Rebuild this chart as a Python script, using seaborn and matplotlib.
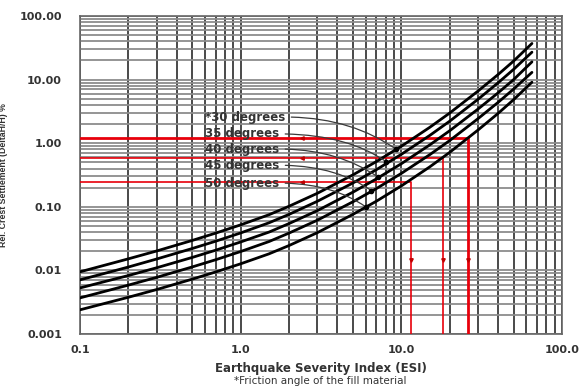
import numpy as np
import pandas as pd
import matplotlib
matplotlib.use("Agg")
import matplotlib.pyplot as plt
from matplotlib.ticker import LogLocator, FixedLocator, NullFormatter
import seaborn as sns

# ---- data ----
esi = [0.1, 0.15, 0.2, 0.3, 0.5, 0.7, 1.0, 1.5, 2.0, 3.0, 5.0, 7.0, 10.0, 15.0, 20.0, 30.0, 40.0, 50.0, 65.0]
s30 = [0.0095, 0.0125, 0.0152, 0.0202, 0.0296, 0.0386, 0.052, 0.075, 0.102, 0.163, 0.318, 0.515, 0.895, 1.77, 2.98, 6.6, 12.0, 19.6, 37.0]
s35 = [0.0071, 0.0093, 0.0113, 0.0151, 0.0221, 0.0288, 0.0388, 0.056, 0.076, 0.122, 0.237, 0.384, 0.668, 1.32, 2.22, 4.9, 8.9, 14.5, 27.0]
s40 = [0.0053, 0.0069, 0.0083, 0.011, 0.016, 0.0208, 0.028, 0.040, 0.0545, 0.087, 0.170, 0.275, 0.476, 0.937, 1.57, 3.44, 6.19, 10.0, 19.0]
s45 = [0.0037, 0.00484, 0.00587, 0.00777, 0.01134, 0.01473, 0.0198, 0.0284, 0.0386, 0.0615, 0.120, 0.1936, 0.335, 0.658, 1.10, 2.43, 4.38, 7.1, 13.0]
s50 = [0.0024, 0.00313, 0.00378, 0.0050, 0.00729, 0.00946, 0.0127, 0.0182, 0.0246, 0.0392, 0.0761, 0.1226, 0.213, 0.423, 0.718, 1.61, 2.94, 4.84, 9.1]
angle_labels = ["*30 degrees", "35 degrees", "40 degrees", "45 degrees", "50 degrees"]
label_pos_y = [2.58, 1.40, 0.81, 0.45, 0.236]
leader_x = [9.3, 8.06, 7.2, 6.5, 6.0]
leader_y = [0.80, 0.51, 0.29, 0.18, 0.10]
red_settle = [1.2, 0.585, 0.246]
red_esi = [26.0, 18.2, 11.5]
red_lw = [2.0, 1.2, 1.2]
yticks = [0.001, 0.01, 0.1, 1, 10, 100]
ytick_labels = ["0.001", "0.01", "0.10", "1.00", "10.00", "100.00"]
xticks = [0.1, 1, 10, 100]
xtick_labels = ["0.1", "1.0", "10.0", "100.0"]

series = [s30, s35, s40, s45, s50]
df = pd.DataFrame({
    "ESI": esi * 5,
    "S": sum(series, []),
    "angle": sum([[a] * len(esi) for a in angle_labels], []),
})

sns.set_theme(style="white")
fig = plt.figure(figsize=(5.8, 3.88), dpi=100)
ax = fig.add_axes([80 / 580, (388 - 334) / 388, (562 - 80) / 580, (334 - 16) / 388])
ax.set_xscale("log")
ax.set_yscale("log")
ax.set_xlim(0.1, 100)
ax.set_ylim(0.001, 100)

# grid
ax.xaxis.set_minor_locator(LogLocator(base=10, subs=np.arange(2, 10)))
ax.yaxis.set_minor_locator(LogLocator(base=10, subs=np.arange(2, 10)))
ax.xaxis.set_minor_formatter(NullFormatter())
ax.yaxis.set_minor_formatter(NullFormatter())
ax.grid(True, which="both", axis="x", color="#4a4a4a", lw=1.4)
ax.grid(True, which="both", axis="y", color="#8c8c8c", lw=1.3)
ax.tick_params(which="both", length=0)
for sp in ax.spines.values():
    sp.set_color("#666666")
    sp.set_linewidth(1.2)

# red guide lines
for s, e, lw in zip(red_settle, red_esi, red_lw):
    ax.plot([0.1, e, e], [s, s, 0.001], color="#e8000b", lw=lw, zorder=3)
    ax.plot([2.4], [s], marker="<", color="#c00000", ms=2.5, zorder=4)
    ax.plot([e], [0.0146], marker="v", color="#c00000", ms=2.5, zorder=4)

sns.lineplot(data=df, x="ESI", y="S", hue="angle", palette=["black"] * 5,
             lw=2.0, legend=False, ax=ax, zorder=5)

for lab, ly, tx, ty in zip(angle_labels, label_pos_y, leader_x, leader_y):
    ax.annotate(lab, xy=(tx, ty), xytext=(0.6, ly), textcoords="data",
                fontsize=8.5, fontweight="bold", color="#333333", va="center", ha="left",
                arrowprops=dict(arrowstyle="-", color="#3a3a3a", lw=0.9,
                                shrinkA=2, shrinkB=0,
                                connectionstyle="angle3,angleA=0,angleB=-35",
                                relpos=(1.0, 0.5)),
                zorder=6)
    ax.plot([tx], [ty], marker="o", color="black", ms=3, zorder=7)

ax.yaxis.set_major_locator(FixedLocator(yticks))
ax.set_yticklabels(ytick_labels, fontsize=8, fontweight="bold", color="#333333")
ax.xaxis.set_major_locator(FixedLocator(xticks))
ax.set_xticklabels(xtick_labels, fontsize=8, fontweight="bold", color="#333333")
ax.tick_params(axis="y", pad=13)
ax.tick_params(axis="x", pad=8)

ax.set_xlabel("Earthquake Severity Index (ESI)", fontsize=8.5, fontweight="bold",
              color="#333333", labelpad=5)
ax.set_ylabel("Rel. Crest Settlement (DeltaH/H) %", fontsize=6.3, fontweight="bold",
              family=["Liberation Sans", "DejaVu Sans"], color="#333333", labelpad=8)
fig.text(320 / 580, 1 - 381 / 388, "*Friction angle of the fill material",
         fontsize=7.5, color="#333333", ha="center", va="center")

fig.savefig("out.png", dpi=100)
